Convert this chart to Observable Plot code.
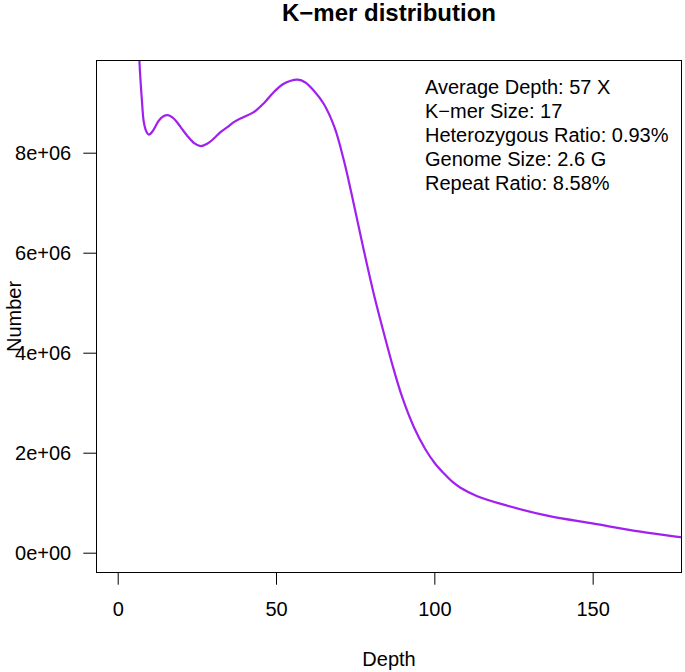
<!DOCTYPE html>
<html>
<head>
<meta charset="utf-8">
<script src="https://cdn.jsdelivr.net/npm/d3@7"></script>
<script src="https://cdn.jsdelivr.net/npm/@observablehq/plot@0.6"></script>
<style>
  html, body { margin: 0; padding: 0; background: white; }
</style>
</head>
<body>
<div id="chart"></div>
<script>
// Depth (x) and Number of k-mers (y, in millions)
const depth = [5, 6, 6.7, 7.5, 8.1, 9, 9.7, 11, 12.8, 14.3, 15.7, 17, 18.6, 20.2, 21.8, 24, 26, 28.1, 30, 32.3, 34.5, 36.5, 39.5, 42.8, 46, 49.1, 52, 54.5, 56.7, 59, 61.8, 64.9, 68.3, 71.3, 73.7, 77.6, 80.7, 83.4, 86.5, 89.7, 93.4, 97.1, 100, 102.8, 105.5, 108.1, 113.4, 122.9, 135.5, 150.2, 165, 177.6, 180];
const numberM = [14, 11.3, 9.85, 9.05, 8.62, 8.42, 8.37, 8.45, 8.65, 8.74, 8.76, 8.72, 8.62, 8.48, 8.35, 8.2, 8.14, 8.19, 8.28, 8.42, 8.52, 8.62, 8.72, 8.82, 9.0, 9.22, 9.38, 9.45, 9.47, 9.42, 9.25, 8.99, 8.52, 7.85, 7.19, 6.05, 5.19, 4.52, 3.79, 3.12, 2.52, 2.07, 1.80, 1.60, 1.43, 1.31, 1.14, 0.95, 0.75, 0.59, 0.43, 0.32, 0.30];

const xTicks = [0, 50, 100, 150];
const yTicks = [0, 2e6, 4e6, 6e6, 8e6];
const yTickLabels = ["0e+00", "2e+06", "4e+06", "6e+06", "8e+06"];

const title = "K\u2212mer distribution";
const xLabel = "Depth";
const yLabel = "Number";
const legendLines = [
  "Average Depth: 57 X",
  "K\u2212mer Size: 17",
  "Heterozygous Ratio: 0.93%",
  "Genome Size: 2.6 G",
  "Repeat Ratio: 8.58%"
];

const data = depth.map((d, i) => ({depth: d, number: numberM[i] * 1e6}));

const FONT = "'Liberation Sans', Arial, Helvetica, sans-serif";

const chart = Plot.plot({
  width: 685,
  height: 672,
  marginLeft: 96,
  marginTop: 60,
  marginRight: 4,
  marginBottom: 100,
  style: {fontFamily: FONT, fontSize: "20px", background: "white", color: "black"},
  x: {domain: [-6.85, 177.9], axis: null},
  y: {domain: [-0.386e6, 9.854e6], axis: null},
  marks: [
    Plot.line(data, {x: "depth", y: "number", stroke: "#A020F0", strokeWidth: 2.2, curve: "catmull-rom", clip: true}),
    Plot.frame({stroke: "black", strokeWidth: 1}),
    Plot.axisX({ticks: xTicks, tickSize: 12.7, tickPadding: 17, fontSize: 20, label: null, stroke: "black"}),
    Plot.axisY({ticks: yTicks, tickFormat: (d) => yTickLabels[yTicks.indexOf(d)], tickSize: 12.7, tickPadding: 12.6, fontSize: 20, label: null, stroke: "black"}),
    Plot.text([title], {frameAnchor: "top", dy: -46.7, fontSize: 24, fontWeight: "bold", lineAnchor: "middle"}),
    Plot.text([xLabel], {frameAnchor: "bottom", dy: 86.6, fontSize: 20, lineAnchor: "middle"}),
    Plot.text([yLabel], {frameAnchor: "left", dx: -82.4, rotate: -90, fontSize: 20, textAnchor: "middle", lineAnchor: "middle"}),
    Plot.text([legendLines.join("\n")], {frameAnchor: "top-left", dx: 328.5, dy: 16.5, textAnchor: "start", lineAnchor: "top", lineHeight: 1.2, fontSize: 20})
  ]
});

document.getElementById("chart").appendChild(chart);
</script>
</body>
</html>
